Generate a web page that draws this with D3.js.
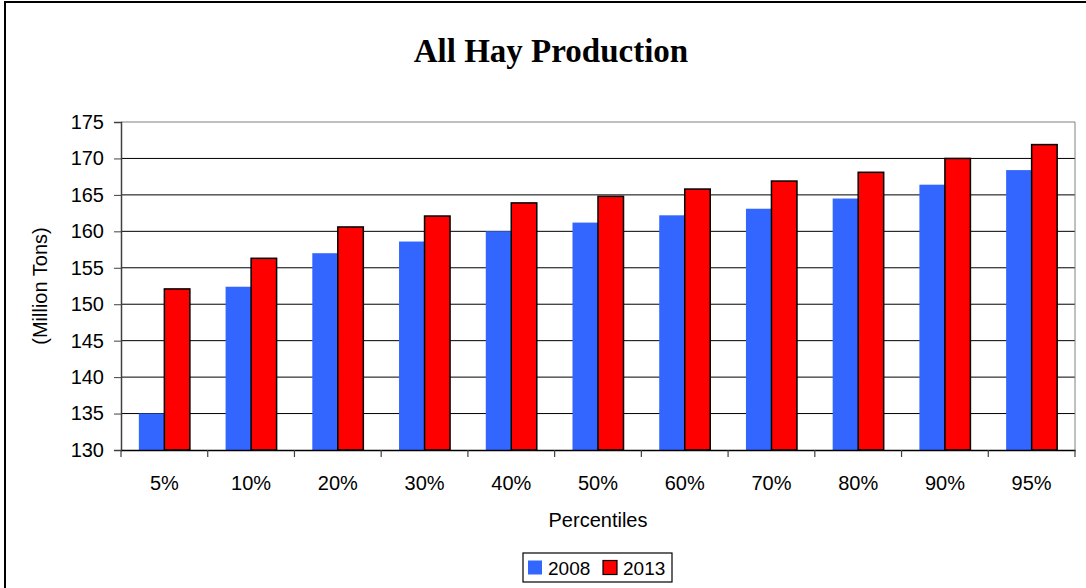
<!DOCTYPE html>
<html>
<head>
<meta charset="utf-8">
<script src="https://cdn.jsdelivr.net/npm/d3@7"></script>
<style>
  html, body { margin: 0; padding: 0; background: #fff; }
  svg { display: block; }
</style>
</head>
<body>
<svg id="chart" width="1086" height="588"></svg>
<script>
const categories = ["5%", "10%", "20%", "30%", "40%", "50%", "60%", "70%", "80%", "90%", "95%"];
const seriesNames = ["2008", "2013"];
const values2008 = [135.0, 152.4, 157.0, 158.6, 160.0, 161.2, 162.2, 163.1, 164.5, 166.4, 168.4];
const values2013 = [152.1, 156.3, 160.6, 162.1, 163.9, 164.8, 165.8, 166.9, 168.1, 170.0, 171.9];
const yTicks = [130, 135, 140, 145, 150, 155, 160, 165, 170, 175];
const colors = { "2008": "#3366FF", "2013": "#FF0000" };

const svg = d3.select("#chart");
const W = 1086, H = 588;
const plot = { left: 121, right: 1075, top: 122, bottom: 450 };

// outer frame
svg.append("rect").attr("x", 5).attr("y", 2).attr("width", W + 20).attr("height", H + 20)
  .attr("fill", "#fff").attr("stroke", "#000").attr("stroke-width", 2);

const x = d3.scaleBand().domain(categories).range([plot.left, plot.right]).padding(0);
const x1 = d3.scaleBand().domain(seriesNames).range([0, x.step()]).paddingInner(0).paddingOuter(0.7);
const y = d3.scaleLinear().domain([130, 175]).range([plot.bottom, plot.top]);

// gridlines
svg.append("g").selectAll("line").data(yTicks.filter(t => t > 130)).join("line")
  .attr("x1", plot.left).attr("x2", plot.right)
  .attr("y1", d => y(d)).attr("y2", d => y(d))
  .attr("stroke", d => d === 175 ? "#808080" : "#000").attr("stroke-width", 1);

// plot right border
svg.append("line").attr("x1", plot.right).attr("x2", plot.right)
  .attr("y1", plot.top).attr("y2", plot.bottom).attr("stroke", "#808080").attr("stroke-width", 1);

// bars
const rows = categories.map((c, i) => ({ cat: c, vals: [
  { key: "2008", v: values2008[i] }, { key: "2013", v: values2013[i] }] }));
const groups = svg.append("g").selectAll("g").data(rows).join("g")
  .attr("transform", d => `translate(${x(d.cat)},0)`);
groups.selectAll("rect").data(d => d.vals).join("rect")
  .attr("x", d => x1(d.key))
  .attr("y", d => y(d.v))
  .attr("width", x1.bandwidth())
  .attr("height", d => y(130) - y(d.v))
  .attr("fill", d => colors[d.key])
  .attr("stroke", d => d.key === "2013" ? "#000" : "none")
  .attr("stroke-width", 1.5);

// y axis
const yAxis = d3.axisLeft(y).tickValues(yTicks).tickSize(7).tickPadding(10).tickFormat(d3.format("d"));
const yg = svg.append("g").attr("transform", `translate(${plot.left},0)`).call(yAxis);
yg.select(".domain").attr("stroke", "#404040").attr("stroke-width", 1.5);
yg.selectAll(".tick line").attr("stroke", "#404040");
yg.selectAll("text").attr("font-family", "Liberation Sans, Arial, sans-serif")
  .attr("font-size", 20).attr("fill", "#000");

// x axis
const xg = svg.append("g").attr("transform", `translate(0,${plot.bottom})`)
  .call(d3.axisBottom(x).tickSize(0).tickPadding(26));
xg.select(".domain").attr("stroke", "#000").attr("stroke-width", 1.5);
xg.selectAll("text").attr("font-family", "Liberation Sans, Arial, sans-serif")
  .attr("font-size", 20).attr("fill", "#000");
// category boundary ticks
const bounds = categories.map(c => x(c)).concat([plot.right]);
xg.append("g").selectAll("line").data(bounds).join("line")
  .attr("x1", d => d).attr("x2", d => d).attr("y1", 0).attr("y2", 7)
  .attr("stroke", "#404040").attr("stroke-width", 1.2);

// title
svg.append("text").attr("x", 551).attr("y", 62).attr("text-anchor", "middle")
  .attr("font-family", "Liberation Serif, Times New Roman, serif").attr("font-weight", "bold")
  .attr("font-size", 33).text("All Hay Production");

// axis titles
svg.append("text").attr("x", (plot.left + plot.right) / 2).attr("y", 527).attr("text-anchor", "middle")
  .attr("font-family", "Liberation Sans, Arial, sans-serif").attr("font-size", 20).text("Percentiles");
svg.append("text").attr("transform", `translate(47,${(plot.top + plot.bottom) / 2}) rotate(-90)`)
  .attr("text-anchor", "middle")
  .attr("font-family", "Liberation Sans, Arial, sans-serif").attr("font-size", 20).text("(Million Tons)");

// legend
const lg = svg.append("g").attr("transform", "translate(523,553)");
lg.append("rect").attr("x", 0).attr("y", 0).attr("width", 149).attr("height", 29)
  .attr("fill", "#fff").attr("stroke", "#000").attr("stroke-width", 1.2);
const lx = [5, 80];
seriesNames.forEach((s, i) => {
  lg.append("rect").attr("x", lx[i]).attr("y", 7.5).attr("width", 14).attr("height", 14)
    .attr("fill", colors[s]).attr("stroke", s === "2013" ? "#000" : "none").attr("stroke-width", 1.2);
  lg.append("text").attr("x", lx[i] + 20).attr("y", 22)
    .attr("font-family", "Liberation Sans, Arial, sans-serif").attr("font-size", 19).text(s);
});
</script>
</body>
</html>
